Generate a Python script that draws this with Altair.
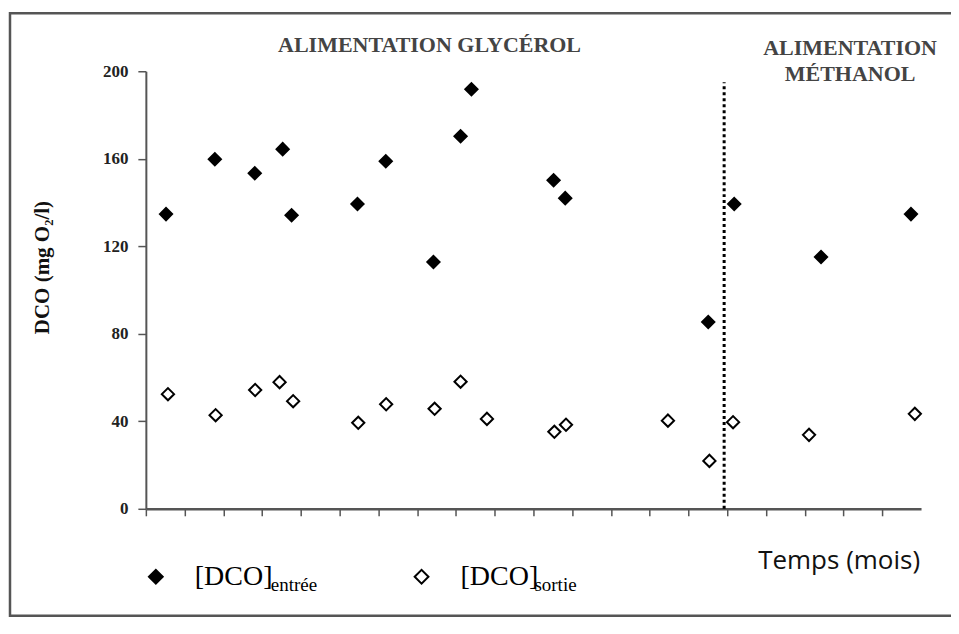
import altair as alt
import pandas as pd

# --- data ---
t_entree = [0.52, 1.78, 2.81, 3.53, 3.76, 5.46, 6.19, 7.42, 8.12, 8.40, 10.52, 10.82, 14.51, 15.18, 17.42, 19.74]
dco_entree = [134.7, 159.8, 153.4, 164.4, 134.2, 139.3, 158.9, 112.8, 170.3, 191.8, 150.2, 142.0, 85.4, 139.3, 115.1, 134.7]
t_sortie = [0.57, 1.80, 2.82, 3.45, 3.80, 5.48, 6.20, 7.45, 8.12, 8.80, 10.54, 10.84, 13.47, 14.54, 15.15, 17.11, 19.84]
dco_sortie = [52.4, 42.8, 54.3, 57.9, 49.2, 39.3, 47.8, 45.7, 58.1, 41.1, 35.2, 38.4, 40.3, 21.9, 39.6, 33.8, 43.4]
switch_t = [14.92]
switch_top = [195]
series = ["entrée", "sortie"]
y_ticks = [0, 40, 80, 120, 160, 200]
x_ticks = list(range(0, 20))

df = pd.concat([
    pd.DataFrame({"t": t_entree, "dco": dco_entree, "serie": series[0]}),
    pd.DataFrame({"t": t_sortie, "dco": dco_sortie, "serie": series[1]}),
])
df_switch = pd.DataFrame({"t": switch_t, "y0": [0], "y1": switch_top})

W, H = 776, 438
PL, PT = 138, 63
OX, OY = 8 + PL, 8 + PT  # page position of the plot origin

x_scale = alt.Scale(domain=[0, 20], nice=False, zero=False)
y_scale = alt.Scale(domain=[0, 200], nice=False)

points = alt.Chart(df).mark_point(filled=True, shape="diamond", size=150, stroke="black", strokeWidth=2, opacity=1).encode(
    x=alt.X("t:Q", scale=x_scale, axis=alt.Axis(values=x_ticks, labels=False, title=None, grid=False,
                                                 domainColor="#555", domainWidth=2.5, tickColor="#555",
                                                 tickWidth=1.5, tickSize=7)),
    y=alt.Y("dco:Q", scale=y_scale, axis=alt.Axis(values=y_ticks, grid=False, title="DCO (mg O₂/l)",
                                                   titleFont="Liberation Serif", titleFontSize=21, titleFontWeight="bold",
                                                   titleColor="#111", titleAngle=270, titleX=-103, titleY=196,
                                                   titleAlign="center", titleBaseline="middle",
                                                   labelFont="Liberation Serif", labelFontSize=17, labelFontWeight="bold",
                                                   labelColor="#222", labelPadding=10,
                                                   domainColor="#555", domainWidth=2, tickColor="#555",
                                                   tickWidth=1.5, tickSize=8)),
    fill=alt.Fill("serie:N", scale=alt.Scale(domain=series, range=["black", "white"]),
                  legend=alt.Legend(orient="none", direction="horizontal", title=None,
                                    legendX=-4, legendY=492, labelExpr="'[DCO]'",
                                    labelFont="Liberation Serif", labelFontSize=28, labelColor="black",
                                    labelOffset=25, columnPadding=135, symbolSize=190, symbolType="diamond",
                                    symbolStrokeColor="black", symbolStrokeWidth=2, padding=0)),
)

switch = alt.Chart(df_switch).mark_rule(color="black", strokeWidth=3, strokeDash=[3, 3]).encode(
    x="t:Q", y="y0:Q", y2="y1:Q"
)

def label(text, x, y, size, font="Liberation Serif", weight="bold", color="#444", align="center", baseline="middle"):
    return alt.Chart(pd.DataFrame({"s": [text]})).mark_text(
        font=font, fontSize=size, fontWeight=weight, color=color, align=align, baseline=baseline
    ).encode(text="s:N", x=alt.value(x - OX), y=alt.value(y - OY))

t_gly = label("ALIMENTATION GLYCÉROL", 430, 45, 22)
t_met1 = label("ALIMENTATION", 851, 48, 22)
t_met2 = label("MÉTHANOL", 851, 74, 22)
t_temps = label("Temps (mois)", 840, 561, 26, font="Open Sans", weight="normal", color="#111")
sub1 = label("entrée", 271, 591, 19, weight="normal", color="black", align="left", baseline="alphabetic")
sub2 = label("sortie", 535, 591, 19, weight="normal", color="black", align="left", baseline="alphabetic")

frame = alt.Chart(pd.DataFrame({"s": [0]})).mark_rect(fill=None, stroke="#555", strokeWidth=2.5).encode(
    x=alt.value(10 - OX), x2=alt.value(954 - OX), y=alt.value(13 - OY), y2=alt.value(616 - OY)
)

chart = alt.layer(frame, switch, points, t_gly, t_met1, t_met2, t_temps, sub1, sub2).properties(
    width=W, height=H,
    padding={"left": PL, "top": PT, "right": 30, "bottom": 110},
    autosize=alt.AutoSizeParams(type="none"),
    background="white",
).configure_view(stroke=None)

chart.save("out.html", embed_options={"renderer": "svg", "actions": False})
